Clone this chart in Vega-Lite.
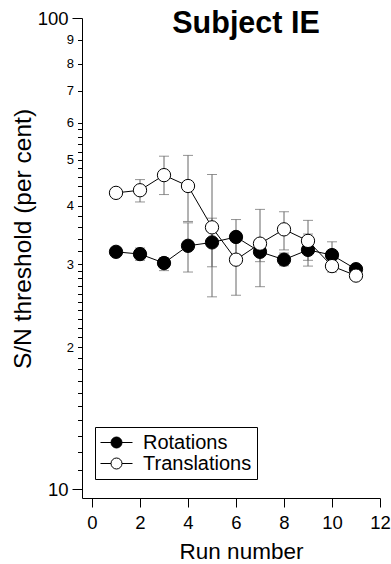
{
  "$schema": "https://vega.github.io/schema/vega-lite/v6.json",
  "width": 298,
  "height": 480,
  "autosize": {"type": "none"},
  "padding": {"left": 82, "top": 18, "right": 11, "bottom": 66},
  "background": "white",
  "config": {
    "font": "Liberation Sans",
    "view": {"stroke": null},
    "axis": {"grid": false, "domainColor": "black", "tickColor": "black", "labelColor": "black", "titleColor": "black", "titleFontWeight": "normal", "domainWidth": 1, "tickWidth": 1}
  },
  "title": {"text": "Subject IE", "anchor": "middle", "dx": 15, "offset": -30, "fontSize": 30.5, "fontWeight": "bold", "color": "black", "font": "Liberation Sans"},
  "datasets": {
    "pts": [
      {"run": 1, "series": "Rotations", "v": 31.9},
      {"run": 2, "series": "Rotations", "v": 31.55},
      {"run": 3, "series": "Rotations", "v": 30.2},
      {"run": 4, "series": "Rotations", "v": 32.85},
      {"run": 5, "series": "Rotations", "v": 33.4},
      {"run": 6, "series": "Rotations", "v": 34.3},
      {"run": 7, "series": "Rotations", "v": 31.9},
      {"run": 8, "series": "Rotations", "v": 30.7},
      {"run": 9, "series": "Rotations", "v": 32.2},
      {"run": 10, "series": "Rotations", "v": 31.4},
      {"run": 11, "series": "Rotations", "v": 29.3},
      {"run": 1, "series": "Translations", "v": 42.55},
      {"run": 2, "series": "Translations", "v": 43.1},
      {"run": 3, "series": "Translations", "v": 46.4},
      {"run": 4, "series": "Translations", "v": 44.0},
      {"run": 5, "series": "Translations", "v": 35.95},
      {"run": 6, "series": "Translations", "v": 30.7},
      {"run": 7, "series": "Translations", "v": 33.2},
      {"run": 8, "series": "Translations", "v": 35.6},
      {"run": 9, "series": "Translations", "v": 33.65},
      {"run": 10, "series": "Translations", "v": 29.75},
      {"run": 11, "series": "Translations", "v": 28.4}
    ],
    "err": [
      {"run": 2, "series": "Rotations", "lo": 30.6, "hi": 32.5},
      {"run": 3, "series": "Rotations", "lo": 29.1, "hi": 31.0},
      {"run": 4, "series": "Rotations", "lo": 28.9, "hi": 36.75},
      {"run": 5, "series": "Rotations", "lo": 29.65, "hi": 37.6},
      {"run": 6, "series": "Rotations", "lo": 31.5, "hi": 37.35},
      {"run": 7, "series": "Rotations", "lo": 30.4, "hi": 33.5},
      {"run": 8, "series": "Rotations", "lo": 29.8, "hi": 31.7},
      {"run": 9, "series": "Rotations", "lo": 29.75, "hi": 34.8},
      {"run": 10, "series": "Rotations", "lo": 29.4, "hi": 33.5},
      {"run": 2, "series": "Translations", "lo": 40.7, "hi": 45.4},
      {"run": 3, "series": "Translations", "lo": 42.2, "hi": 50.9},
      {"run": 4, "series": "Translations", "lo": 37.0, "hi": 51.1},
      {"run": 5, "series": "Translations", "lo": 25.6, "hi": 46.55},
      {"run": 6, "series": "Translations", "lo": 25.8, "hi": 34.0},
      {"run": 7, "series": "Translations", "lo": 26.9, "hi": 39.25},
      {"run": 8, "series": "Translations", "lo": 32.2, "hi": 38.8},
      {"run": 9, "series": "Translations", "lo": 30.6, "hi": 37.2},
      {"run": 10, "series": "Translations", "lo": 28.9, "hi": 30.8}
    ]
  },
  "encoding": {
    "x": {
      "field": "run", "type": "quantitative",
      "scale": {"domain": [-0.417, 12], "nice": false, "zero": false},
      "axis": {"title": "Run number", "values": [0, 2, 4, 6, 8, 10, 12], "tickSize": 9, "labelFontSize": 18.5, "labelPadding": 6, "labelFlush": false, "labelOverlap": false, "titleFontSize": 22.5, "titleX": 159, "titleY": 60, "titleAlign": "center", "titleBaseline": "alphabetic"}
    },
    "y": {
      "field": "v", "type": "quantitative",
      "scale": {"type": "log", "domain": [9.579, 100], "nice": false},
      "axis": {
        "title": "S/N threshold (per cent)",
        "values": [10, 11, 12, 13, 14, 15, 16, 17, 18, 19, 20, 21, 22, 23, 24, 25, 26, 27, 28, 29, 30, 32, 34, 36, 38, 40, 42, 44, 46, 48, 50, 52, 54, 56, 58, 60, 70, 80, 90, 100],
        "tickCount": 200,
        "labelExpr": "datum.value == 10 ? '10' : datum.value == 100 ? '100' : (datum.value % 10 == 0 ? '' + (datum.value / 10) : '')",
        "labelFontSize": {"condition": {"test": "datum.value == 10 || datum.value == 100", "value": 18.5}, "value": 13},
        "tickSize": {"condition": {"test": "datum.value == 10 || datum.value == 100", "value": 10}, "value": 4.5},
        "labelPadding": 4,
        "labelOverlap": false,
        "labelFlush": false,
        "titleFontSize": 24.5,
        "titleAngle": -90,
        "titleX": -59,
        "titleY": 220.5,
        "titleAlign": "center",
        "titleBaseline": "middle"
      }
    }
  },
  "layer": [
    {
      "data": {"name": "err"},
      "mark": {"type": "errorbar", "color": "#666666", "thickness": 1, "ticks": {"size": 10, "thickness": 1, "color": "#666666"}},
      "encoding": {
        "y": {"field": "lo", "type": "quantitative"},
        "y2": {"field": "hi"},
        "detail": {"field": "series"}
      }
    },
    {
      "data": {"name": "pts"},
      "mark": {"type": "line", "color": "black", "strokeWidth": 1},
      "encoding": {
        "detail": {"field": "series"}
      }
    },
    {
      "data": {"name": "pts"},
      "mark": {"type": "point", "shape": "circle", "size": 177, "stroke": "black", "strokeWidth": 1, "opacity": 1, "fillOpacity": 1, "strokeOpacity": 1},
      "encoding": {
        "fill": {
          "field": "series", "type": "nominal",
          "scale": {"domain": ["Rotations", "Translations"], "range": ["black", "white"]},
          "legend": {
            "title": null,
            "orient": "none",
            "legendX": 13,
            "legendY": 409,
            "symbolType": "M-1,0H0.05M1.15,0H2.2M1.15,0A0.55,0.55,0,1,1,0.05,0A0.55,0.55,0,1,1,1.15,0Z",
            "symbolSize": 400,
            "symbolStrokeColor": "black",
            "symbolStrokeWidth": 1,
            "symbolOpacity": 1,
            "labelFontSize": 20,
            "labelColor": "black",
            "labelOffset": 22,
            "strokeColor": "black",
            "padding": 5,
            "rowPadding": 0
          }
        }
      }
    }
  ]
}
